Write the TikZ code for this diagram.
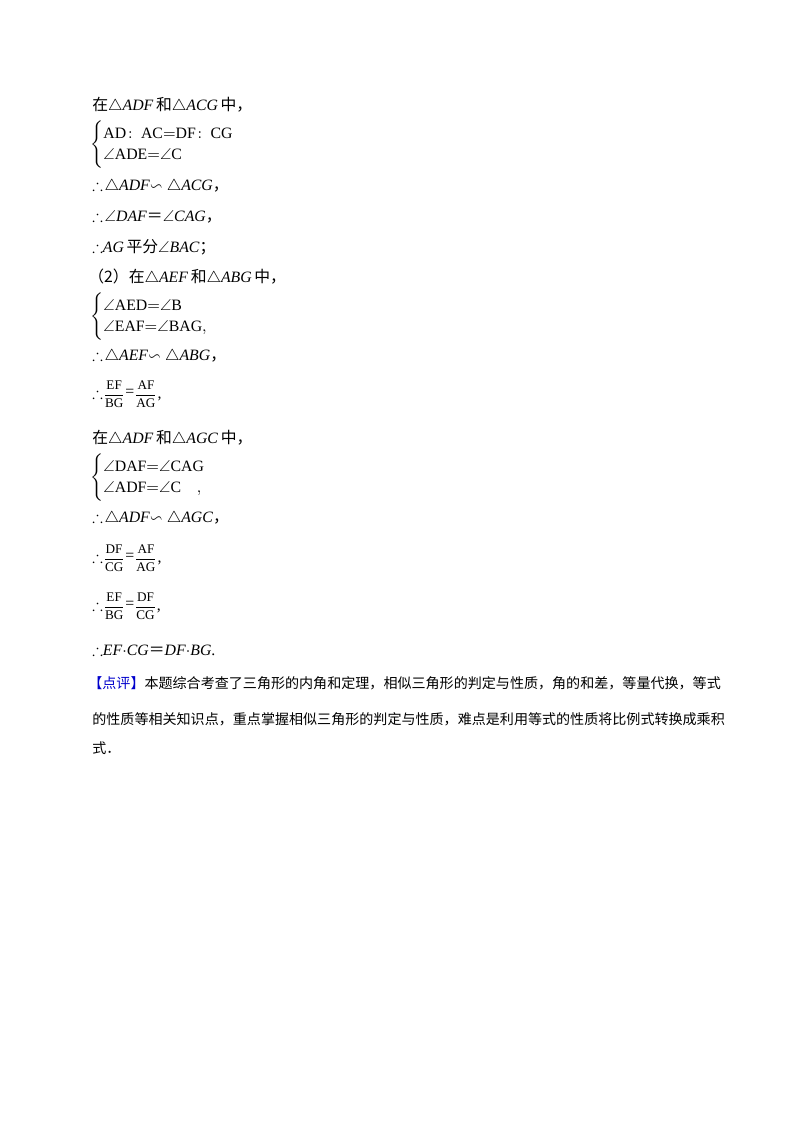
\documentclass[tikz,border=0pt]{standalone}
\usepackage{amsmath,amssymb}
\usepackage{fontspec}
\setmainfont{Liberation Serif}
\newfontfamily\cjk{Noto Sans CJK SC}
\newcommand{\zh}[1]{{\cjk #1}}
\newcommand{\ratio}[2]{{\fontsize{7.5pt}{9pt}\selectfont$\dfrac{\mathrm{#1}}{\mathrm{#2}}$}}
\usetikzlibrary{positioning}
\tikzset{line/.style={anchor=west, inner sep=0pt, font=\fontsize{9pt}{12pt}\selectfont},
  para/.style={anchor=west, inner sep=0pt, font=\fontsize{8pt}{12pt}\selectfont}}

\begin{document}
\begin{tikzpicture}[x=0.02cm, y=-0.02cm]
\useasboundingbox (0,0) rectangle (800,1132);

\node (l1) [line] at (92,105) {\zh{在}$\triangle$\textit{ADF}\,\zh{和}$\triangle$\textit{ACG}\,\zh{中，}};
\node (b1) [line] at (90,145) {$\left\{\begin{array}{@{}l@{}}\mathrm{AD\!:\ AC{=}DF\!:\ CG}\\ \angle\mathrm{ADE}{=}\angle\mathrm{C}\end{array}\right.$};
\node (l2) [line] at (92,187) {$\therefore\!\triangle$\textit{ADF}$\backsim\triangle$\textit{ACG}\zh{，}};
\node (l3) [line] at (92,217) {$\therefore\!\angle$\textit{DAF}\zh{＝}$\angle$\textit{CAG}\zh{，}};
\node (l4) [line] at (92,247) {$\therefore$\textit{AG}\,\zh{平分}$\angle$\textit{BAC}\zh{；}};
\node (l5) [line] at (88,277) {\zh{（2）在}$\triangle$\textit{AEF}\,\zh{和}$\triangle$\textit{ABG}\,\zh{中，}};
\node (b2) [line] at (90,317) {$\left\{\begin{array}{@{}l@{}}\angle\mathrm{AED}{=}\angle\mathrm{B}\\ \angle\mathrm{EAF}{=}\angle\mathrm{BAG,}\end{array}\right.$};
\node (l6) [line] at (92,357) {$\therefore\!\triangle$\textit{AEF}$\backsim\triangle$\textit{ABG}\zh{，}};
\node (f1) [line] at (92,394) {$\therefore$\ratio{EF}{BG}\raisebox{1pt}{=}\ratio{AF}{AG},};
\node (l7) [line] at (92,438) {\zh{在}$\triangle$\textit{ADF}\,\zh{和}$\triangle$\textit{AGC}\,\zh{中，}};
\node (b3) [line] at (90,478) {$\left\{\begin{array}{@{}l@{}}\angle\mathrm{DAF}{=}\angle\mathrm{CAG}\\ \angle\mathrm{ADF}{=}\angle\mathrm{C}\quad\mathrm{,}\end{array}\right.$};
\node (l8) [line] at (92,519) {$\therefore\!\triangle$\textit{ADF}$\backsim\triangle$\textit{AGC}\zh{，}};
\node (f2) [line] at (92,558) {$\therefore$\ratio{DF}{CG}\raisebox{1pt}{=}\ratio{AF}{AG},};
\node (f3) [line] at (92,606) {$\therefore$\ratio{EF}{BG}\raisebox{1pt}{=}\ratio{DF}{CG},};
\node (l9) [line] at (92,650) {$\therefore$\textit{EF}$\cdot$\textit{CG}\zh{＝}\textit{DF}$\cdot$\textit{BG}.};
\node (l10) [para] at (88,683) {\zh{\textcolor{blue!80!black}{【点评】}本题综合考查了三角形的内角和定理，相似三角形的判定与性质，角的和差，等量代换，等式}};
\node (l11) [para] at (92,719) {\zh{的性质等相关知识点，重点掌握相似三角形的判定与性质，难点是利用等式的性质将比例式转换成乘积}};
\node (l12) [para] at (92,748) {\zh{式．}};

\end{tikzpicture}
\end{document}
